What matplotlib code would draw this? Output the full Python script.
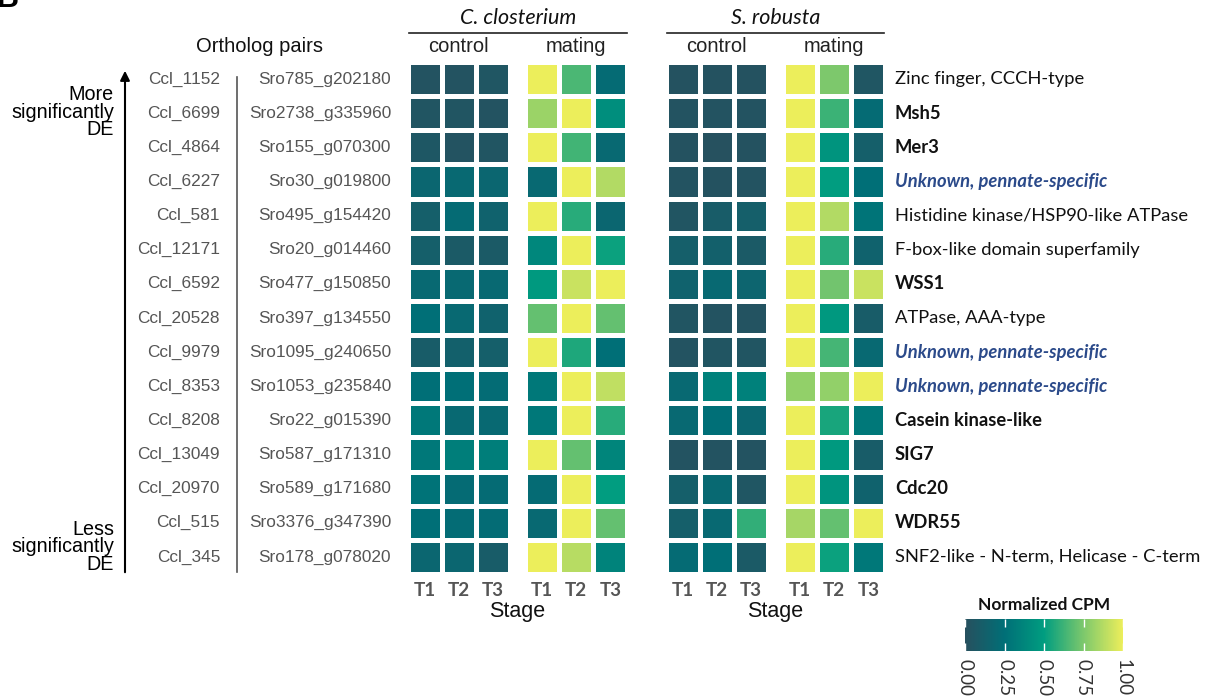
import numpy as np
import matplotlib
matplotlib.use("Agg")
from matplotlib import pyplot as plt
from matplotlib.colors import LinearSegmentedColormap
from matplotlib.cm import ScalarMappable
from matplotlib.colors import Normalize

# ---- data ----
ccl_ids = ['Ccl_1152', 'Ccl_6699', 'Ccl_4864', 'Ccl_6227', 'Ccl_581', 'Ccl_12171',
           'Ccl_6592', 'Ccl_20528', 'Ccl_9979', 'Ccl_8353', 'Ccl_8208', 'Ccl_13049',
           'Ccl_20970', 'Ccl_515', 'Ccl_345']
sro_ids = ['Sro785_g202180', 'Sro2738_g335960', 'Sro155_g070300', 'Sro30_g019800',
           'Sro495_g154420', 'Sro20_g014460', 'Sro477_g150850', 'Sro397_g134550',
           'Sro1095_g240650', 'Sro1053_g235840', 'Sro22_g015390', 'Sro587_g171310',
           'Sro589_g171680', 'Sro3376_g347390', 'Sro178_g078020']
annotations = ['Zinc finger, CCCH-type', 'Msh5', 'Mer3', 'Unknown, pennate-specific',
               'Histidine kinase/HSP90-like ATPase', 'F-box-like domain superfamily',
               'WSS1', 'ATPase, AAA-type', 'Unknown, pennate-specific',
               'Unknown, pennate-specific', 'Casein kinase-like', 'SIG7', 'Cdc20',
               'WDR55', 'SNF2-like - N-term, Helicase - C-term']
# 'n' normal, 'b' bold, 'u' unknown (bold italic blue)
annot_style = ['n', 'b', 'b', 'u', 'n', 'n', 'b', 'n', 'u', 'u', 'b', 'b', 'b', 'b', 'n']

stages = ['T1', 'T2', 'T3']

cc_control = [[0.03, 0.03, 0.05], [0.04, 0.04, 0.03], [0.06, 0.03, 0.04], [0.18, 0.20, 0.18],
              [0.12, 0.22, 0.15], [0.12, 0.08, 0.08], [0.20, 0.20, 0.20], [0.25, 0.20, 0.15],
              [0.10, 0.13, 0.12], [0.25, 0.25, 0.23], [0.30, 0.20, 0.20], [0.30, 0.33, 0.33],
              [0.27, 0.22, 0.22], [0.25, 0.23, 0.23], [0.18, 0.18, 0.10]]
cc_mating = [[1.00, 0.65, 0.22], [0.82, 1.00, 0.42], [1.00, 0.63, 0.20], [0.20, 1.00, 0.87],
             [1.00, 0.58, 0.18], [0.38, 1.00, 0.52], [0.48, 0.92, 1.00], [0.70, 1.00, 0.70],
             [1.00, 0.56, 0.25], [0.30, 1.00, 0.90], [0.30, 1.00, 0.58], [1.00, 0.70, 0.37],
             [0.22, 1.00, 0.50], [0.20, 1.00, 0.70], [1.00, 0.88, 0.36]]
sr_control = [[0.02, 0.02, 0.02], [0.03, 0.03, 0.03], [0.02, 0.01, 0.02], [0.03, 0.02, 0.03],
              [0.04, 0.10, 0.12], [0.12, 0.13, 0.08], [0.15, 0.20, 0.17], [0.04, 0.03, 0.03],
              [0.03, 0.04, 0.04], [0.20, 0.35, 0.35], [0.20, 0.25, 0.18], [0.03, 0.03, 0.03],
              [0.12, 0.20, 0.05], [0.12, 0.20, 0.60], [0.22, 0.25, 0.08]]
sr_mating = [[1.00, 0.75, 0.05], [1.00, 0.62, 0.22], [1.00, 0.45, 0.12], [1.00, 0.50, 0.25],
             [1.00, 0.87, 0.28], [1.00, 0.58, 0.15], [1.00, 0.73, 0.92], [1.00, 0.47, 0.10],
             [1.00, 0.64, 0.20], [0.80, 0.80, 1.00], [1.00, 0.55, 0.30], [1.00, 0.48, 0.10],
             [1.00, 0.45, 0.15], [0.84, 0.70, 1.00], [1.00, 0.52, 0.30]]

cmap = LinearSegmentedColormap.from_list(
    'cpm', [(0, '#27505e'), (0.25, '#006f77'), (0.5, '#009d80'), (0.75, '#7cc86c'), (1, '#ecee5b')])

W, H = 1209, 698
fig = plt.figure(figsize=(W / 100, H / 100), dpi=100)

# background axes in pixel coordinates for all text
bg = fig.add_axes([0, 0, 1, 1])
bg.set_xlim(0, W)
bg.set_ylim(H, 0)
bg.set_axis_off()

arial = 'Liberation Sans'
calib = 'Lato'
n = len(ccl_ids)
top, bottom = 62, 574
pitch = (bottom - top) / n


def row_y(i):
    return top + pitch * (i + 0.5)


def add_block(x0, vals):
    w = 3 * pitch
    ax = fig.add_axes([x0 / W, 1 - bottom / H, w / W, (bottom - top) / H])
    ax.pcolormesh(np.array(vals), cmap=cmap, vmin=0, vmax=1,
                  edgecolors='white', linewidth=2.2)
    ax.set_xlim(0, 3)
    ax.set_ylim(n, 0)
    ax.set_axis_off()
    for j, s in enumerate(stages):
        bg.text(x0 + pitch * (j + 0.5), 591, s, ha='center', va='center',
                fontsize=13.5, fontweight='bold', color='#555555', family=calib)
    return x0 + w / 2


blocks = [(407.5, cc_control), (525, cc_mating), (665.5, sr_control), (783, sr_mating)]
centers = [add_block(x0, v) for x0, v in blocks]

# species headers
for (xa, xb), name in zip([(409, 627), (667, 884)], ['C. closterium', 'S. robusta']):
    bg.text((xa + xb) / 2, 18, name, ha='center', va='center', fontsize=15.5,
            style='italic', family=calib, color='#111111')
    bg.plot([xa, xb], [33, 33], color='#222222', lw=1.2)

for c, lab in zip(centers, ['control', 'mating', 'control', 'mating']):
    bg.text(c, 47, lab, ha='center', va='center', fontsize=14.5, family=arial, color='#222222')

for c in [(centers[0] + centers[1]) / 2, (centers[2] + centers[3]) / 2]:
    bg.text(c, 612, 'Stage', ha='center', va='center', fontsize=15.5, family=arial, color='#111111')

# ortholog labels
bg.text(260, 46, 'Ortholog pairs', ha='center', va='center', fontsize=14.5, family=arial, color='#111111')
for i in range(n):
    y = row_y(i)
    bg.text(220, y, ccl_ids[i], ha='right', va='center', fontsize=12.4, family=arial, color='#555555')
    bg.text(391, y, sro_ids[i], ha='right', va='center', fontsize=12.4, family=arial, color='#555555')
    st = annot_style[i]
    if st == 'u':
        bg.text(895, y, annotations[i], ha='left', va='center', fontsize=13.2, family=calib,
                fontweight='bold', style='italic', color='#2b4a8a')
    else:
        bg.text(895, y, annotations[i], ha='left', va='center', fontsize=13.2, family=calib,
                fontweight='bold' if st == 'b' else 'normal', color='#111111')
bg.plot([237, 237], [77, 572], color='#555555', lw=1.2)

# significance arrow
bg.annotate('', xy=(125, 68), xytext=(125, 575),
            arrowprops=dict(arrowstyle='-|>', color='black', lw=1.5, mutation_scale=14))
bg.text(114, 112, 'More\nsignificantly\nDE', ha='right', va='center', fontsize=14.2,
        family=arial, linespacing=0.9, multialignment='right')
bg.text(114, 547, 'Less\nsignificantly\nDE', ha='right', va='center', fontsize=14.2,
        family=arial, linespacing=0.9, multialignment='right')

bg.text(-3, 14, 'B', ha='left', va='bottom', fontsize=22, fontweight='bold', family=arial)

# colorbar
cax = fig.add_axes([965 / W, 1 - 651 / H, 158 / W, 32 / H])
sm = ScalarMappable(norm=Normalize(0, 1), cmap=cmap)
cb = fig.colorbar(sm, cax=cax, orientation='horizontal', ticks=[0, 0.25, 0.5, 0.75, 1])
cb.outline.set_visible(False)
cax.xaxis.set_ticks_position('both')
cax.tick_params(axis='x', direction='in', length=6, width=1, color='white',
                labelcolor='#333333', labelsize=13.5, pad=6)
cb.set_ticklabels(['0.00', '0.25', '0.50', '0.75', '1.00'])
for t in cax.get_xticklabels():
    t.set_rotation(270)
    t.set_family(calib)
    t.set_va('top')
cax.xaxis.set_tick_params(labeltop=False)
bg.text(1044, 605, 'Normalized CPM', ha='center', va='center', fontsize=12.5,
        fontweight='bold', family=calib, color='#111111')

fig.savefig('out.png', dpi=100)
